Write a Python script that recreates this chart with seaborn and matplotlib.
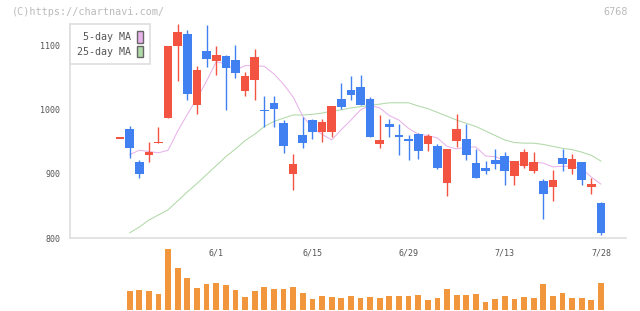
import matplotlib
matplotlib.use("Agg")
import matplotlib.pyplot as plt
import seaborn as sns
import numpy as np
import pandas as pd
from matplotlib.patches import Patch

# trading days (5/18 - 7/28)
dates = ["5/18", "5/19", "5/22", "5/23", "5/24", "5/25", "5/26", "5/29", "5/30", "5/31",
         "6/1", "6/2", "6/5", "6/6", "6/7", "6/8", "6/9", "6/12", "6/13", "6/14",
         "6/15", "6/16", "6/19", "6/20", "6/21", "6/22", "6/23", "6/26", "6/27", "6/28",
         "6/29", "6/30", "7/3", "7/4", "7/5", "7/6", "7/7", "7/10", "7/11", "7/12",
         "7/13", "7/14", "7/18", "7/19", "7/20", "7/21", "7/24", "7/25", "7/26", "7/27",
         "7/28"]

opens = [956, 970, 919, 930, 948, 988, 1099, 1119, 1008, 1092,
         1077, 1084, 1078, 1029, 1046, 1000, 1011, 980, 900, 961,
         984, 966, 965, 1017, 1031, 1036, 1017, 946, 978, 961,
         955, 962, 947, 944, 886, 952, 955, 917, 909, 922,
         928, 896, 913, 904, 889, 879, 925, 908, 919, 879,
         855]
highs = [956, 975, 921, 950, 974, 1100, 1134, 1125, 1069, 1133,
         1100, 1086, 1102, 1059, 1095, 1022, 1022, 984, 931, 989,
         986, 986, 1006, 1042, 1053, 1055, 1020, 992, 986, 978,
         961, 964, 962, 947, 939, 994, 978, 939, 920, 939,
         934, 920, 939, 934, 892, 906, 939, 931, 919, 894,
         856]
lows = [956, 925, 893, 919, 948, 988, 1045, 1016, 993, 1067,
        1055, 1000, 1050, 1021, 1016, 973, 974, 932, 875, 941,
        955, 950, 958, 1002, 1016, 1008, 958, 940, 958, 930,
        922, 924, 936, 908, 865, 942, 922, 894, 900, 908,
        883, 882, 910, 902, 829, 858, 905, 900, 882, 868,
        804]
closes = [956, 941, 900, 934, 950, 1100, 1122, 1024, 1062, 1079,
          1086, 1066, 1058, 1053, 1083, 998, 1002, 944, 916, 949,
          966, 981, 1006, 1005, 1023, 1008, 958, 953, 974, 958,
          952, 936, 959, 910, 939, 970, 930, 894, 905, 916,
          905, 920, 934, 919, 869, 891, 916, 923, 890, 884,
          808]

ma5 = [np.nan, 930, 937, 935, 933, 937, 967, 993, 1018, 1045,
       1075, 1072, 1062, 1069, 1069, 1068, 1056, 1040, 1020, 990,
       972, 962, 953, 969, 984, 1000, 1007, 1003, 991, 984,
       971, 962, 960, 956, 943, 939, 942, 942, 928, 927,
       921, 918, 912, 918, 917, 911, 912, 912, 908, 895,
       884]
ma25 = [np.nan, 808, 817, 828, 836, 844, 858, 872, 885, 899,
        913, 927, 939, 952, 962, 974, 982, 987, 992, 992,
        993, 995, 998, 1000, 1003, 1005, 1007, 1009, 1011, 1011,
        1011, 1006, 1002, 996, 990, 984, 979, 974, 967, 960,
        953, 949, 948, 948, 946, 943, 940, 938, 934, 929,
        920]

volume = [0, 57, 60, 57, 48, 183, 126, 96, 66, 78,
          81, 75, 60, 39, 57, 69, 63, 63, 69, 51,
          33, 42, 39, 36, 42, 36, 39, 36, 42, 42,
          42, 45, 30, 36, 63, 45, 45, 48, 24, 33,
          42, 33, 39, 36, 78, 42, 51, 36, 36, 30,
          81]

RED = "#f25441"
BLUE = "#4180f0"
ORANGE = "#f2963e"
PINK = "#e8b2ea"
GREEN = "#b0d9a8"
AXIS = "#dedede"
TXT = "#555555"

sns.set_style("white")
plt.rcParams["font.family"] = ["DejaVu Sans Mono"]

df = pd.DataFrame({"date": dates, "open": opens, "high": highs, "low": lows,
                   "close": closes, "ma5": ma5, "ma25": ma25, "volume": volume})
df["idx"] = np.arange(len(df))

fig = plt.figure(figsize=(6.4, 3.11), dpi=100)
ax = fig.add_axes([70 / 640, 1 - 238 / 311, 556 / 640, 214 / 311])
ax2 = fig.add_axes([70 / 640, 1 / 311, 556 / 640, 63 / 311])

xmin, xmax = -5.2, 52.6

# moving averages
sns.lineplot(data=df, x="idx", y="ma25", color=GREEN, linewidth=0.75, ax=ax, zorder=2)
sns.lineplot(data=df, x="idx", y="ma5", color=PINK, linewidth=0.75, ax=ax, zorder=2)

# candles
up = df["close"] >= df["open"]
cols = np.where(up, RED, BLUE)
ax.vlines(df["idx"], df["low"], df["high"], colors=cols, linewidth=1.0, zorder=3)
diff = (df["close"] - df["open"]).abs()
h = np.maximum(diff, 2.0)
bottom = np.minimum(df["open"], df["close"]) - (h - diff) / 2
ax.bar(df["idx"], h, bottom=bottom, width=0.9, color=cols, linewidth=0, zorder=4)

ax.set_xlim(xmin, xmax)
ax.set_ylim(800, 1134)
ax.set_xlabel("")
ax.set_ylabel("")
ax.set_yticks([800, 900, 1000, 1100])
lab_idx = [10, 20, 30, 40, 50]
ax.set_xticks(lab_idx)
ax.set_xticklabels([dates[i] for i in lab_idx])
ax.set_xticks(np.linspace(xmin, xmax, 11), minor=True)
ax.tick_params(axis="x", which="major", length=0, pad=7.5, labelsize=6, labelcolor=TXT)
ax.tick_params(axis="x", which="minor", direction="inout", length=8, width=1.2, color=AXIS)
ax.tick_params(axis="y", direction="inout", length=8, width=1.2, color=AXIS,
               labelsize=6, labelcolor=TXT, pad=3)
for s in ["top", "right"]:
    ax.spines[s].set_visible(False)
for s in ["left", "bottom"]:
    ax.spines[s].set_color(AXIS)
    ax.spines[s].set_linewidth(1.2)

handles = [Patch(facecolor=PINK, edgecolor="#666666", label="5-day MA"),
           Patch(facecolor=GREEN, edgecolor="#666666", label="25-day MA")]
leg = ax.legend(handles=handles, loc="upper left", bbox_to_anchor=(0, 1),
                borderaxespad=0, markerfirst=False, frameon=True, fancybox=False,
                edgecolor=AXIS, framealpha=1, fontsize=7.2, handlelength=0.6,
                handleheight=1.4, labelspacing=0.3, borderpad=0.7,
                handletextpad=0.6, labelcolor=TXT)
leg.get_frame().set_linewidth(1.2)

# volume
sns.barplot(x=df["idx"], y=df["volume"], native_scale=True, color=ORANGE,
            saturation=1, width=0.6, linewidth=0, ax=ax2)
ax2.set_xlim(xmin, xmax)
ax2.set_ylim(0, 188)
ax2.axis("off")

fig.text(12 / 640, 1 - 12 / 311, "(C)https://chartnavi.com/", color="#bbbbbb",
         fontsize=7.3, va="center", ha="left")
fig.text(628 / 640, 1 - 12 / 311, "6768", color="#bbbbbb",
         fontsize=7.3, va="center", ha="right")

fig.savefig("out.png", dpi=100)
